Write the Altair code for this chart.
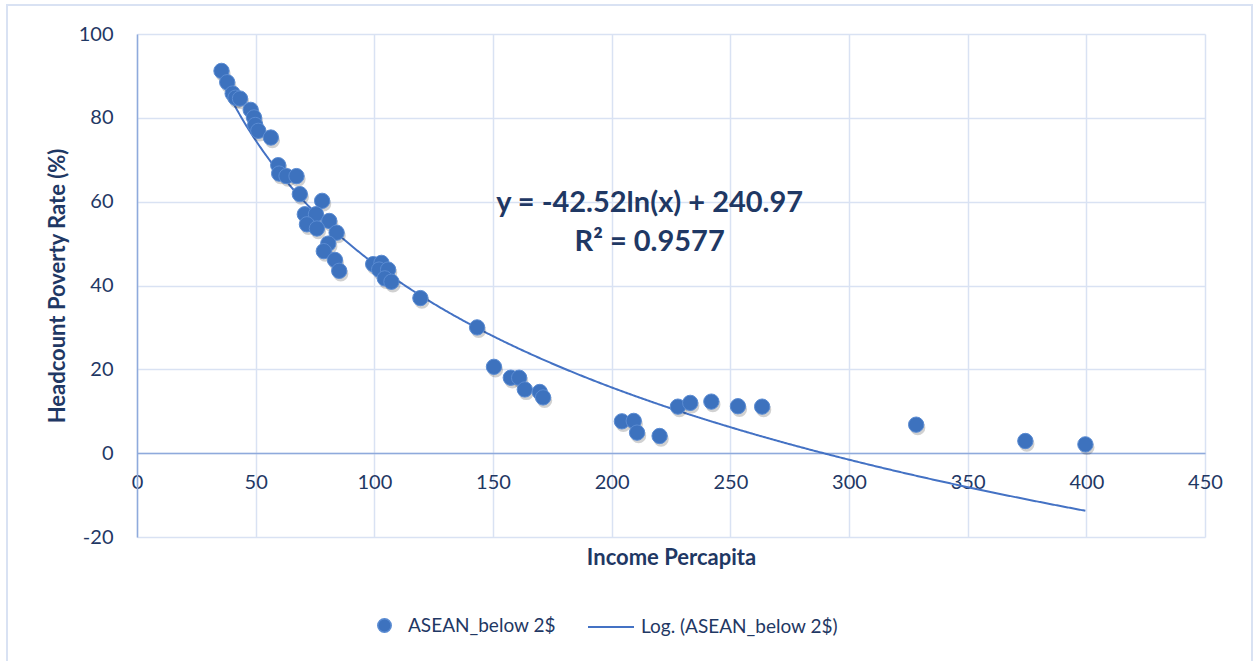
import altair as alt
import pandas as pd

# Income per capita vs. share of population below $2/day (ASEAN)
income = [35.6, 38.0, 40.3, 41.5, 43.4, 47.9, 49.3, 49.8, 51.1, 56.4,
          59.5, 59.9, 63.0, 67.2, 68.6, 78.0, 70.7, 75.4, 81.0, 71.6,
          75.8, 84.1, 80.6, 78.7, 83.4, 85.2, 99.5, 103.0, 102.0, 105.8,
          104.4, 107.2, 119.4, 143.3, 150.4, 157.5, 161.0, 163.4, 169.7, 171.1,
          204.3, 209.3, 210.7, 220.2, 227.9, 233.1, 242.0, 253.2, 263.4, 328.3,
          374.3, 399.6]
poverty = [91.2, 88.5, 85.8, 84.8, 84.6, 81.9, 80.1, 78.3, 76.9, 75.3,
           68.7, 66.7, 66.1, 66.1, 61.8, 60.2, 57.0, 57.0, 55.4, 54.6,
           53.6, 52.6, 50.0, 48.2, 46.1, 43.5, 45.1, 45.4, 43.8, 43.8,
           41.7, 40.9, 37.0, 30.0, 20.6, 18.0, 18.0, 15.2, 14.6, 13.3,
           7.6, 7.7, 4.9, 4.1, 11.1, 12.0, 12.3, 11.2, 11.1, 6.8,
           2.9, 2.1]

# Logarithmic trend line as reported: y = -42.52 ln(x) + 240.97, R² = 0.9577
SLOPE = -42.52
INTERCEPT = 240.97
eq_lines = ["y = -42.52ln(x) + 240.97", "R² = 0.9577"]
eq_x = [216.0, 216.0]
eq_y = [59.7, 50.4]

SERIES_PTS = "ASEAN_below 2$"
SERIES_FIT = "Log. (ASEAN_below 2$)"

NAVY = "#1F3864"
BLUE = "#3D72BE"
LINE_BLUE = "#4472C4"
GRID = "#D9E2F3"
AXIS_LINE = "#8FAADC"
FONT = "Lato"

pts = pd.DataFrame({"income": income, "poverty": poverty, "series": SERIES_PTS})
eq = pd.DataFrame({"label": eq_lines, "x": eq_x, "y": eq_y})

x_scale = alt.Scale(domain=[0, 450], nice=False)
y_scale = alt.Scale(domain=[-20, 100], nice=False)

x_axis = alt.Axis(
    values=list(range(0, 451, 50)), ticks=False, tickSize=0, offset=-84,
    labelPadding=19, labelFontSize=20, labelColor=NAVY, labelFont=FONT,
    labelFlush=False, labelExpr="'' + datum.value",
    domainColor=AXIS_LINE, domainWidth=1.5, gridColor=GRID, gridWidth=1.5,
    title="Income Percapita", titleFontSize=22, titleFontWeight="bold",
    titleColor=NAVY, titleFont=FONT, titleY=104, titleBaseline="middle",
)
y_axis = alt.Axis(
    values=list(range(-20, 101, 20)), ticks=False, tickSize=0,
    labelPadding=24, labelFontSize=20, labelColor=NAVY, labelFont=FONT,
    labelFlush=False, labelExpr="'' + datum.value",
    domainColor=AXIS_LINE, domainWidth=1.5, gridColor=GRID, gridWidth=1.5,
    title="Headcount Poverty Rate (%)", titleFontSize=22, titleFontWeight="bold",
    titleColor=NAVY, titleFont=FONT, titleX=-80, titleBaseline="middle",
)

base = alt.Chart(pts)

shadow = base.mark_point(filled=True, size=235, color="#000000", opacity=0.18).encode(
    x=alt.X("income:Q", scale=x_scale, axis=x_axis),
    y=alt.Y("poverty:Q", scale=y_scale, axis=y_axis),
    xOffset=alt.value(1.5),
    yOffset=alt.value(3),
)

dots = base.mark_point(
    filled=True, size=235, opacity=1,
    stroke="#5A8BD2", strokeWidth=1,
).encode(
    x=alt.X("income:Q", scale=x_scale),
    y=alt.Y("poverty:Q", scale=y_scale),
    color=alt.Color(
        "series:N",
        scale=alt.Scale(domain=[SERIES_PTS], range=[BLUE]),
        legend=alt.Legend(
            title=None, orient="none", legendX=238, legendY=582,
            labelFontSize=19, labelColor=NAVY, labelFont=FONT, labelLimit=0,
            symbolType="circle", symbolSize=180, labelOffset=14, padding=0,
        ),
    ),
)

fit = alt.Chart(alt.sequence(min(income), max(income) + 0.5, 0.5, as_="x")).transform_calculate(
    y=f"{SLOPE} * log(datum.x) + {INTERCEPT}",
    series=f"'{SERIES_FIT}'",
).mark_line(strokeWidth=2, clip=False).encode(
    x=alt.X("x:Q", scale=x_scale),
    y=alt.Y("y:Q", scale=y_scale),
    color=alt.Color(
        "series:N",
        scale=alt.Scale(domain=[SERIES_FIT], range=[LINE_BLUE]),
        legend=alt.Legend(
            title=None, orient="none", legendX=450, legendY=569,
            labelFontSize=19, labelColor=NAVY, labelFont=FONT, labelLimit=0,
            symbolType="stroke", symbolSize=2116, symbolStrokeWidth=2,
            labelOffset=6, padding=0,
        ),
    ),
)

equation = alt.Chart(eq).mark_text(
    fontSize=29, fontWeight="bold", color=NAVY, font=FONT, align="center", baseline="middle",
).encode(
    x=alt.X("x:Q", scale=x_scale),
    y=alt.Y("y:Q", scale=y_scale),
    text="label:N",
)

# Light frame around the whole figure
frame = alt.Chart(pd.DataFrame({"k": [0]})).mark_rect(
    fill=None, stroke=GRID, strokeWidth=2, clip=False,
).encode(
    x=alt.value(-130), x2=alt.value(1115),
    y=alt.value(-29), y2=alt.value(640),
)

chart = alt.layer(frame, fit, shadow, dots, equation).resolve_scale(
    color="independent"
).properties(
    width=1068, height=503,
    autosize=alt.AutoSizeParams(type="none"),
    padding={"left": 137, "top": 34, "right": 54, "bottom": 124},
    background="white",
).configure_view(stroke=None)

chart.save("out.html", embed_options={"renderer": "svg", "actions": False})
